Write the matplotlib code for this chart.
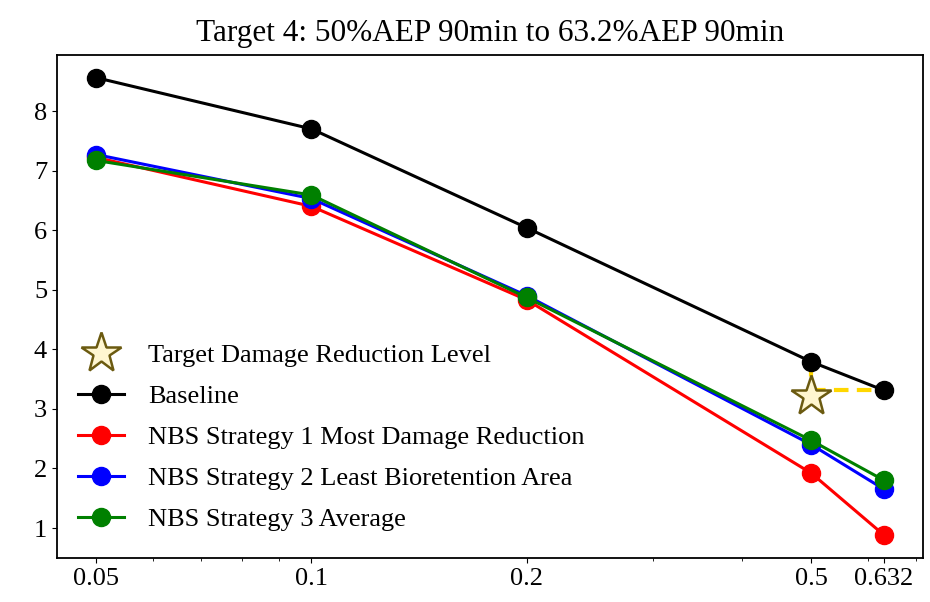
import matplotlib
matplotlib.use("Agg")
import matplotlib.pyplot as plt
from matplotlib.ticker import NullFormatter

plt.rcParams["font.family"] = ["Liberation Serif", "DejaVu Serif"]

# annual exceedance probability
aep = [0.05, 0.1, 0.2, 0.5, 0.632]
aep_labels = ["0.05", "0.1", "0.2", "0.5", "0.632"]

baseline = [8.56, 7.70, 6.04, 3.79, 3.31]
nbs_most_reduction = [7.22, 6.40, 4.83, 1.92, 0.88]
nbs_least_area = [7.27, 6.53, 4.90, 2.40, 1.65]
nbs_average = [7.17, 6.59, 4.87, 2.47, 1.80]

target_x = 0.5
target_y = 3.21

series = [
    ("Baseline", baseline, "black"),
    ("NBS Strategy 1 Most Damage Reduction", nbs_most_reduction, "red"),
    ("NBS Strategy 2 Least Bioretention Area", nbs_least_area, "blue"),
    ("NBS Strategy 3 Average", nbs_average, "green"),
]

fig = plt.figure(figsize=(9.3, 6.02), dpi=100)
ax = fig.add_axes([0.061, 0.073, 0.932, 0.836])

# dashed guides from baseline to the target level
ax.plot([target_x, target_x], [baseline[3], target_y], color="gold", lw=3,
        ls=(0, (3.5, 2)), zorder=1)
ax.plot([target_x, aep[-1]], [baseline[-1], baseline[-1]], color="gold", lw=3,
        ls=(0, (3.5, 2)), zorder=1)

star, = ax.plot([target_x], [target_y], marker="*", ls="none", markersize=30,
                markerfacecolor="#fff6d0", markeredgecolor="#6b5a10",
                markeredgewidth=1.8, zorder=5, label="Target Damage Reduction Level")

handles = [star]
for name, vals, col in series:
    h, = ax.plot(aep, vals, color=col, lw=2.2, marker="o", markersize=13, label=name)
    handles.append(h)

ax.set_xscale("log")
ax.set_xticks(aep)
ax.set_xticklabels(aep_labels)
ax.xaxis.set_minor_formatter(NullFormatter())
ax.tick_params(axis="both", labelsize=19)

ax.set_title("Target 4: 50%AEP 90min to 63.2%AEP 90min", fontsize=22.5, pad=10)

ax.legend(handles=handles, loc="lower left", bbox_to_anchor=(0.0, 0.012),
          fontsize=19, frameon=False, labelspacing=0.66, handlelength=1.75,
          handletextpad=0.9, borderaxespad=0.4)

for sp in ax.spines.values():
    sp.set_linewidth(1.3)

fig.savefig("out.png", dpi=100)
